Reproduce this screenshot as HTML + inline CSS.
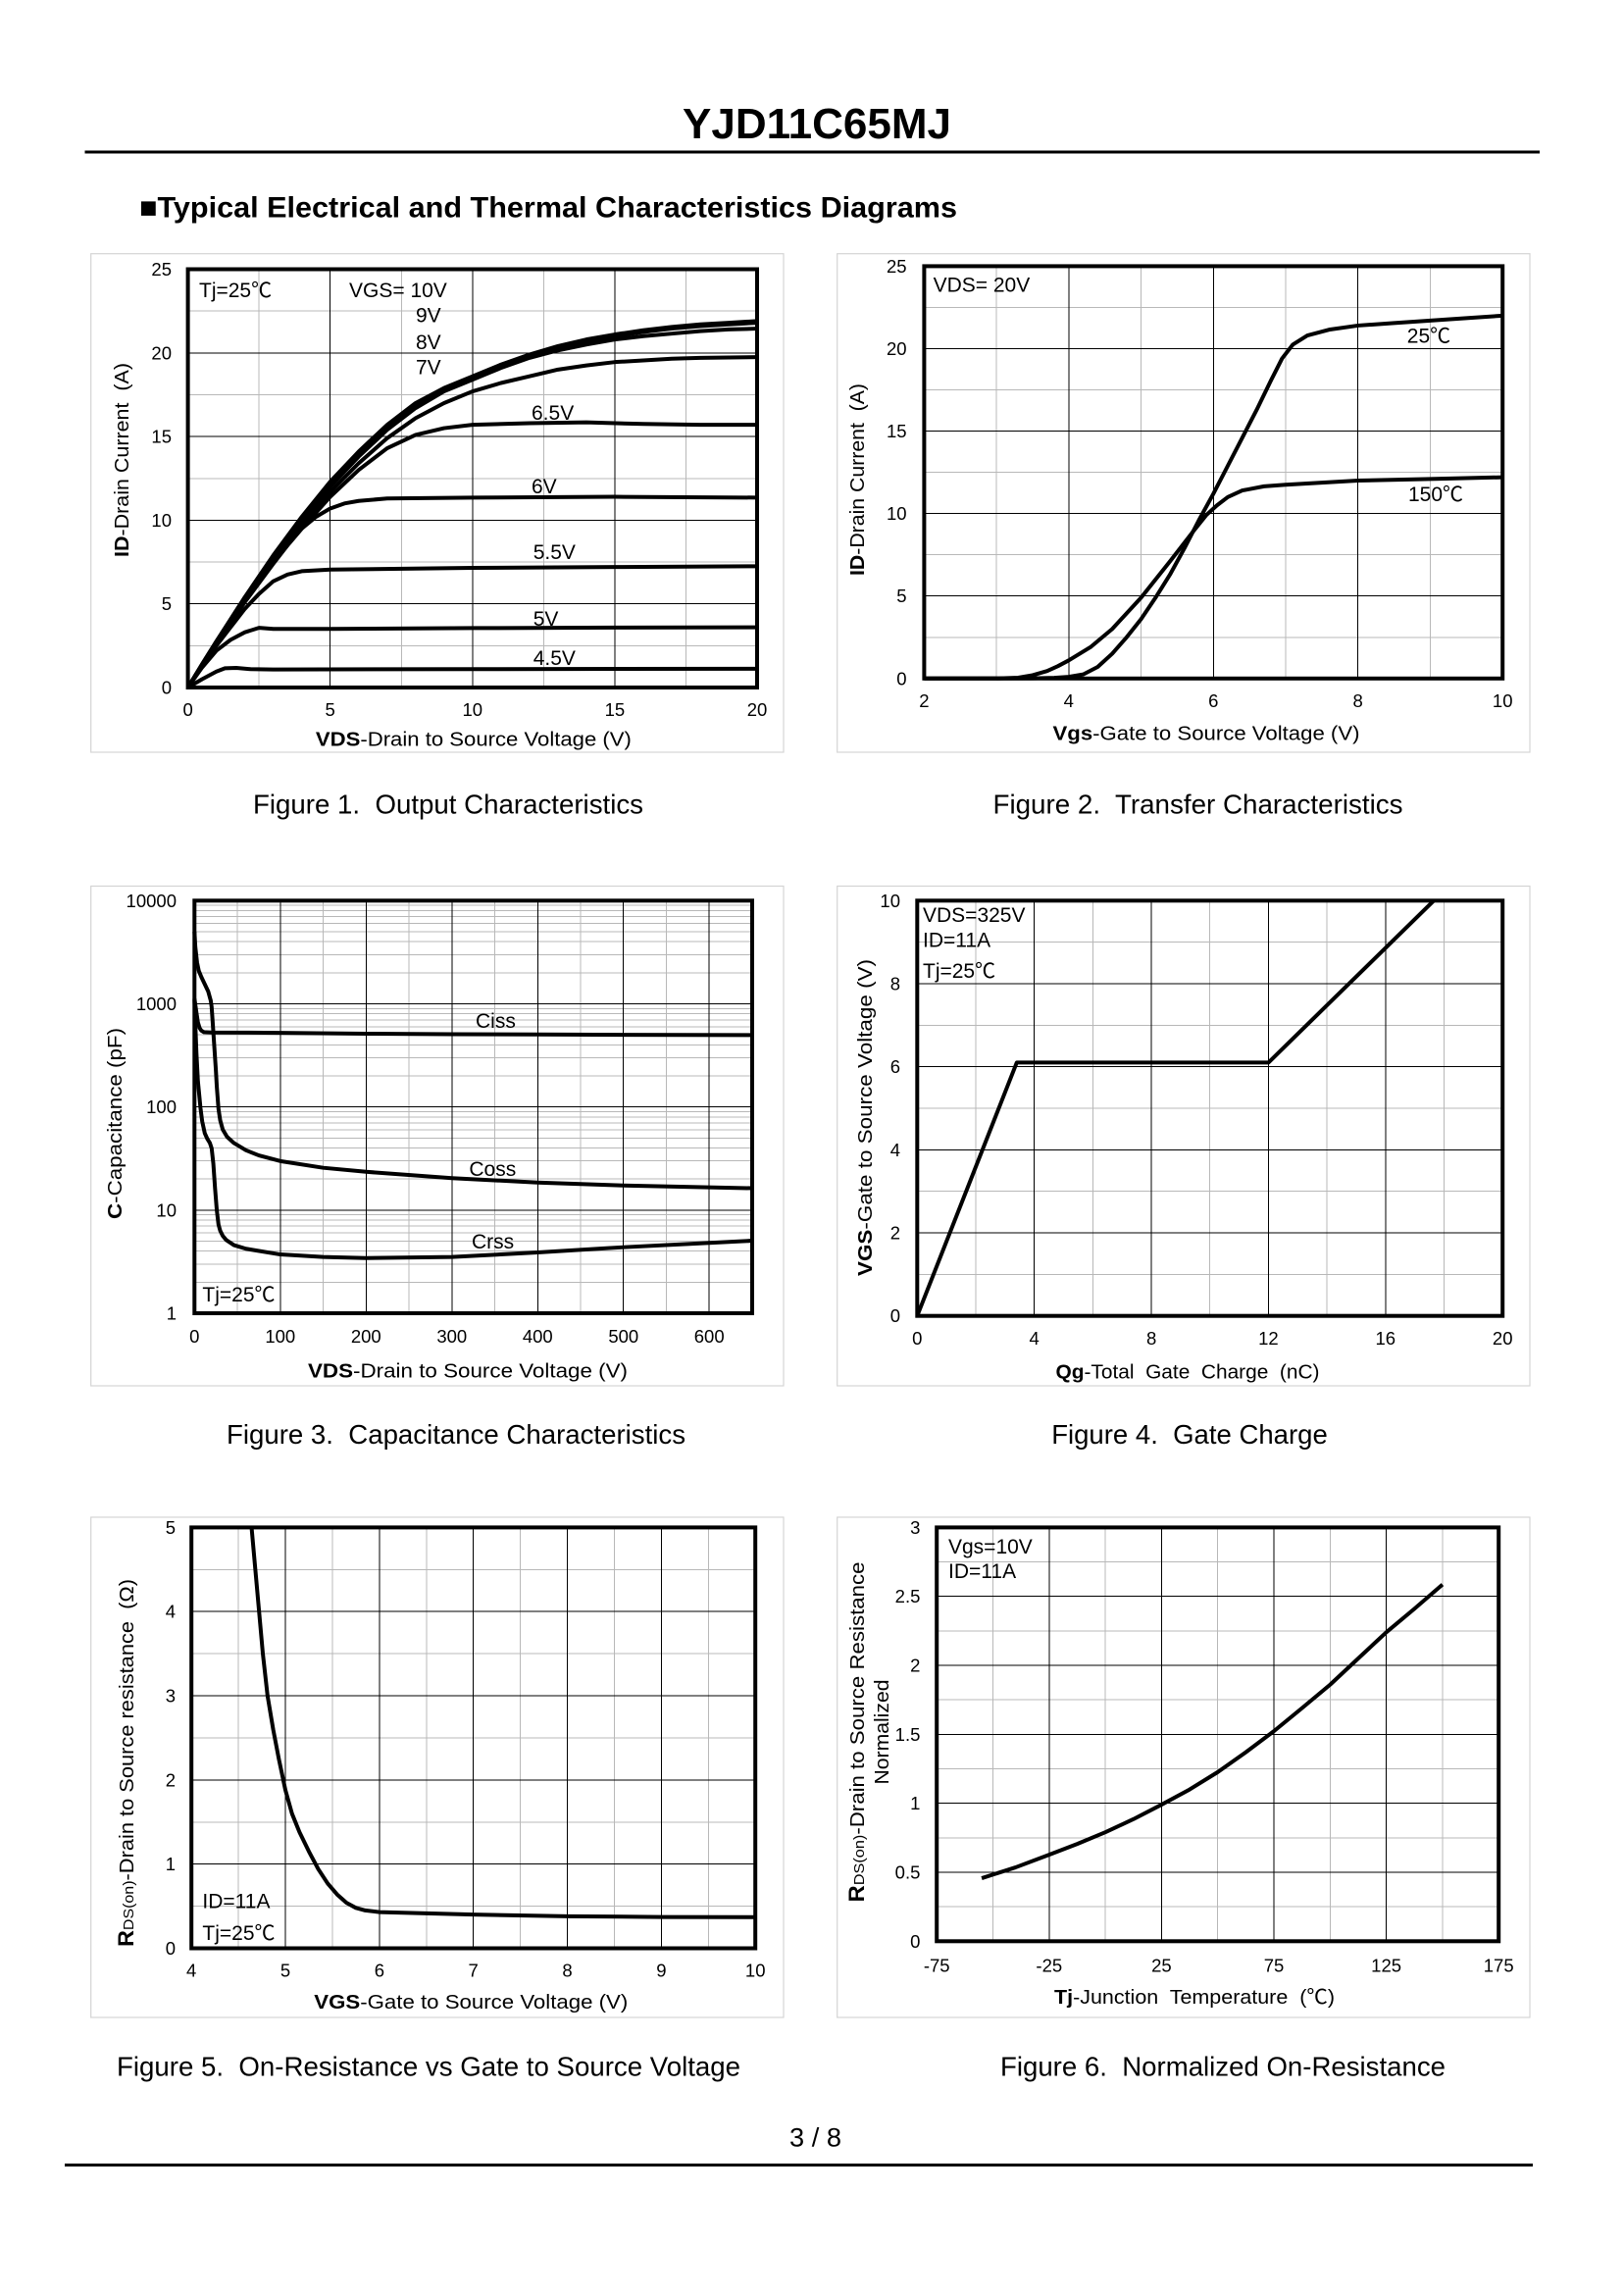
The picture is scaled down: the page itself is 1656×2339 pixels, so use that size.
<!DOCTYPE html>
<html><head><meta charset="utf-8"><style>
html,body{margin:0;padding:0;background:#fff;}
svg{display:block;}
text{font-family:"Liberation Sans",Arial,"Noto Sans CJK JP",sans-serif;fill:#000;white-space:pre;}
.t{font-size:18.5px;}
.a{font-size:21px;}
.l{font-size:20.5px;}
.c{font-size:27.5px;}
.g{fill:none;stroke:#b8b8b8;stroke-width:1;vector-effect:non-scaling-stroke;shape-rendering:crispEdges;}
.k{fill:none;stroke:#000;stroke-width:1;vector-effect:non-scaling-stroke;shape-rendering:crispEdges;}
.cv{fill:none;stroke:#000;stroke-width:4;vector-effect:non-scaling-stroke;stroke-linejoin:round;stroke-linecap:butt;}
.bd{fill:none;stroke:#000;stroke-width:4;}
.pn{fill:none;stroke:#d4d4d4;stroke-width:1.2;}
</style></head><body>
<svg width="1656" height="2339" viewBox="0 0 1656 2339" xmlns="http://www.w3.org/2000/svg">
<rect width="1656" height="2339" fill="#fff"/>

<!-- Header -->
<text x="833" y="141" text-anchor="middle" font-weight="bold" font-size="44" textLength="274" lengthAdjust="spacingAndGlyphs">YJD11C65MJ</text>
<rect x="86.5" y="153.5" width="1483.5" height="3" fill="#000"/>
<text x="142" y="221.4" font-weight="bold" font-size="30" textLength="834" lengthAdjust="spacingAndGlyphs">■Typical Electrical and Thermal Characteristics Diagrams</text>

<!-- Panels -->
<rect class="pn" x="92.7" y="258.7" width="706.3" height="508.3"/>
<rect class="pn" x="853.7" y="258.7" width="706.3" height="508.3"/>
<rect class="pn" x="92.7" y="903.5" width="706.3" height="509.5"/>
<rect class="pn" x="853.7" y="903.5" width="706.3" height="509.5"/>
<rect class="pn" x="92.7" y="1547" width="706.3" height="510"/>
<rect class="pn" x="853.7" y="1547" width="706.3" height="510"/>

<!-- ============ FIGURE 1 ============ -->
<g transform="matrix(29.02,0,0,-17.06,191.6,701)">
<path class="g" d="M2.5 0V25M7.5 0V25M12.5 0V25M17.5 0V25M0 2.5H20M0 7.5H20M0 12.5H20M0 17.5H20M0 22.5H20"/>
<path class="k" d="M5 0V25M10 0V25M15 0V25M0 5H20M0 10H20M0 15H20M0 20H20"/>
<path class="cv" d="M0 0L0.5 1.4L1 2.75L2 5.4L3 7.9L4 10.2L5 12.3L6 14.1L7 15.7L8 17L9 17.9L10 18.6L11 19.3L12 19.9L13 20.4L14 20.8L15 21.1L16 21.35L17 21.55L18 21.7L19 21.8L20 21.9"/>
<path class="cv" d="M0 0L0.5 1.4L1 2.75L2 5.38L3 7.85L4 10.1L5 12.2L6 14.0L7 15.6L8 16.9L9 17.8L10 18.5L11 19.2L12 19.8L13 20.3L14 20.7L15 21.0L16 21.25L17 21.45L18 21.6L19 21.7L20 21.8"/>
<path class="cv" d="M0 0L1 2.75L2 5.35L3 7.8L4 10.0L5 12.0L6 13.8L7 15.4L8 16.7L9 17.7L10 18.4L11 19.1L12 19.7L13 20.15L14 20.5L15 20.8L16 21.0L17 21.15L18 21.3L19 21.4L20 21.45"/>
<path class="cv" d="M0 0L1 2.7L2 5.3L3 7.7L4 9.8L5 11.7L6 13.4L7 14.9L8 16.1L9 17.0L10 17.7L11 18.2L12 18.6L13 19.0L14 19.25L15 19.45L16 19.55L17 19.65L18 19.7L20 19.75"/>
<path class="cv" d="M0 0L1 2.65L2 5.2L3 7.5L4 9.5L5 11.4L6 13.0L7 14.3L8 15.1L9 15.5L10 15.7L12 15.8L14 15.85L16 15.75L18 15.7L20 15.7"/>
<path class="cv" d="M0 0L1 2.6L2 5.1L3 7.4L3.5 8.5L4 9.5L4.5 10.2L5 10.7L5.5 11.0L6 11.15L7 11.3L10 11.35L15 11.4L20 11.35"/>
<path class="cv" d="M0 0L0.5 1.3L1 2.5L1.5 3.6L2 4.7L2.5 5.6L3 6.35L3.5 6.75L4 6.95L5 7.05L10 7.15L15 7.2L20 7.25"/>
<path class="cv" d="M0 0L0.5 1.2L1 2.2L1.5 2.85L2 3.3L2.5 3.57L3 3.5L5 3.5L10 3.55L15 3.58L20 3.6"/>
<path class="cv" d="M0 0L0.5 0.5L1 0.95L1.3 1.15L1.7 1.17L2.2 1.1L3 1.08L10 1.1L20 1.12"/>
</g>
<rect class="bd" x="191.6" y="274.5" width="580.4" height="426.5"/>
<g class="t" text-anchor="end">
<text x="175" y="707.5">0</text><text x="175" y="622.2">5</text><text x="175" y="536.9">10</text><text x="175" y="451.6">15</text><text x="175" y="366.3">20</text><text x="175" y="281">25</text>
</g>
<g class="t" text-anchor="middle">
<text x="191.6" y="730">0</text><text x="336.7" y="730">5</text><text x="481.8" y="730">10</text><text x="626.9" y="730">15</text><text x="772" y="730">20</text>
</g>
<text class="l" x="482.9" y="760.7" text-anchor="middle" textLength="322" lengthAdjust="spacingAndGlyphs"><tspan font-weight="bold">VDS</tspan>-Drain to Source Voltage (V)</text>
<text class="l" transform="translate(131,469) rotate(-90)" text-anchor="middle" textLength="198" lengthAdjust="spacingAndGlyphs"><tspan font-weight="bold">ID</tspan>-Drain Current  (A)</text>
<g class="a">
<text x="203" y="303">Tj=25℃</text>
<text x="356" y="303">VGS= 10V</text>
<text x="424" y="328.6">9V</text>
<text x="424" y="356">8V</text>
<text x="424" y="381.6">7V</text>
<text x="542" y="428">6.5V</text>
<text x="542" y="503">6V</text>
<text x="543.7" y="570">5.5V</text>
<text x="543.7" y="638">5V</text>
<text x="543.7" y="678">4.5V</text>
</g>
<text class="c" x="457" y="829.6" text-anchor="middle" textLength="398" lengthAdjust="spacingAndGlyphs">Figure 1.  Output Characteristics</text>

<!-- ============ FIGURE 2 ============ -->
<g transform="matrix(73.72,0,0,-16.816,794.96,691.8)">
<path class="g" d="M3 0V25M5 0V25M7 0V25M9 0V25M2 2.5H10M2 7.5H10M2 12.5H10M2 17.5H10M2 22.5H10"/>
<path class="k" d="M4 0V25M6 0V25M8 0V25M2 5H10M2 10H10M2 15H10M2 20H10"/>
<path class="cv" d="M2 0L3.5 0.01L3.8 0.04L4 0.1L4.2 0.25L4.4 0.7L4.6 1.5L4.8 2.5L5 3.6L5.2 4.9L5.4 6.3L5.6 7.9L5.8 9.6L6 11.2L6.2 12.9L6.4 14.6L6.6 16.3L6.8 18.1L6.95 19.4L7.1 20.25L7.3 20.8L7.6 21.15L8 21.4L8.5 21.55L9 21.7L9.5 21.85L10 22"/>
<path class="cv" d="M2 0L3 0L3.3 0.05L3.5 0.2L3.7 0.45L3.85 0.75L4 1.1L4.3 1.9L4.6 3.0L5 4.9L5.4 7.1L5.7 8.8L5.9 9.9L6.05 10.5L6.2 11.0L6.4 11.4L6.7 11.65L7 11.75L8 12.0L9 12.1L10 12.2"/>
</g>
<rect class="bd" x="942.4" y="271.4" width="589.8" height="420.4"/>
<g class="t" text-anchor="end">
<text x="924.6" y="698.3">0</text><text x="924.6" y="614.2">5</text><text x="924.6" y="530.1">10</text><text x="924.6" y="446.1">15</text><text x="924.6" y="362">20</text><text x="924.6" y="277.9">25</text>
</g>
<g class="t" text-anchor="middle">
<text x="942.4" y="721">2</text><text x="1089.8" y="721">4</text><text x="1237.3" y="721">6</text><text x="1384.7" y="721">8</text><text x="1532.2" y="721">10</text>
</g>
<text class="l" x="1230" y="754.6" text-anchor="middle" textLength="313" lengthAdjust="spacingAndGlyphs"><tspan font-weight="bold">Vgs</tspan>-Gate to Source Voltage (V)</text>
<text class="l" transform="translate(881,489) rotate(-90)" text-anchor="middle" textLength="196" lengthAdjust="spacingAndGlyphs"><tspan font-weight="bold">ID</tspan>-Drain Current  (A)</text>
<g class="a">
<text x="951.6" y="297.4">VDS= 20V</text>
<text x="1434.8" y="349.5">25℃</text>
<text x="1436" y="511">150℃</text>
</g>
<text class="c" x="1221.5" y="829.6" text-anchor="middle" textLength="418" lengthAdjust="spacingAndGlyphs">Figure 2.  Transfer Characteristics</text>

<!-- ============ FIGURE 3 ============ -->
<g transform="matrix(0.8749,0,0,-105.18,198.3,1339)">
<path class="g" d="M50 0V4M150 0V4M250 0V4M350 0V4M450 0V4M550 0V4
M0 0.30103H650M0 0.47712H650M0 0.60206H650M0 0.69897H650M0 0.77815H650M0 0.8451H650M0 0.90309H650M0 0.95424H650
M0 1.30103H650M0 1.47712H650M0 1.60206H650M0 1.69897H650M0 1.77815H650M0 1.8451H650M0 1.90309H650M0 1.95424H650
M0 2.30103H650M0 2.47712H650M0 2.60206H650M0 2.69897H650M0 2.77815H650M0 2.8451H650M0 2.90309H650M0 2.95424H650
M0 3.30103H650M0 3.47712H650M0 3.60206H650M0 3.69897H650M0 3.77815H650M0 3.8451H650M0 3.90309H650M0 3.95424H650"/>
<path class="k" d="M100 0V4M200 0V4M300 0V4M400 0V4M500 0V4M600 0V4M0 1H650M0 2H650M0 3H650"/>
<path class="cv" d="M0 3.05L2 2.93L4 2.82L6 2.765L8 2.74L11 2.725L20 2.722L100 2.718L200 2.71L300 2.705L400 2.702L500 2.699L650 2.696"/>
<path class="cv" d="M0 3.7L1 3.55L3 3.4L5 3.32L8 3.26L12 3.19L16 3.12L19 3.03L20 2.97L21 2.85L23 2.6L25 2.35L26 2.2L28 1.98L30 1.87L33 1.78L38 1.71L46 1.65L60 1.58L75 1.53L100 1.475L150 1.41L200 1.371L300 1.31L400 1.267L500 1.238L650 1.212"/>
<path class="cv" d="M0 3.04L1 2.8L2.3 2.52L4 2.25L7 1.99L9 1.86L12 1.745L15 1.69L18 1.65L20 1.6L22 1.45L24 1.21L26 1.0L28 0.86L30 0.8L33 0.75L37 0.71L46 0.66L60 0.625L100 0.57L150 0.545L200 0.535L300 0.545L400 0.59L500 0.64L650 0.703"/>
</g>
<rect class="bd" x="198.3" y="918.3" width="568.7" height="420.7"/>
<g class="t" text-anchor="end">
<text x="180" y="1345.5">1</text><text x="180" y="1240.3">10</text><text x="180" y="1135.1">100</text><text x="180" y="1030">1000</text><text x="180" y="924.8">10000</text>
</g>
<g class="t" text-anchor="middle">
<text x="198.3" y="1369">0</text><text x="285.8" y="1369">100</text><text x="373.3" y="1369">200</text><text x="460.8" y="1369">300</text><text x="548.3" y="1369">400</text><text x="635.8" y="1369">500</text><text x="723.2" y="1369">600</text>
</g>
<text class="l" x="477" y="1404.5" text-anchor="middle" textLength="326" lengthAdjust="spacingAndGlyphs"><tspan font-weight="bold">VDS</tspan>-Drain to Source Voltage (V)</text>
<text class="l" transform="translate(124,1145.5) rotate(-90)" text-anchor="middle" textLength="195" lengthAdjust="spacingAndGlyphs"><tspan font-weight="bold">C</tspan>-Capacitance (pF)</text>
<g class="a">
<text x="485" y="1048">Ciss</text>
<text x="478.4" y="1199">Coss</text>
<text x="481" y="1273">Crss</text>
<text x="206.4" y="1327">Tj=25℃</text>
</g>
<text class="c" x="465" y="1471.8" text-anchor="middle" textLength="468" lengthAdjust="spacingAndGlyphs">Figure 3.  Capacitance Characteristics</text>

<!-- ============ FIGURE 4 ============ -->
<g transform="matrix(29.845,0,0,-42.34,935.3,1341.7)">
<path class="g" d="M2 0V10M6 0V10M10 0V10M14 0V10M18 0V10M0 1H20M0 3H20M0 5H20M0 7H20M0 9H20"/>
<path class="k" d="M4 0V10M8 0V10M12 0V10M16 0V10M0 2H20M0 4H20M0 6H20M0 8H20"/>
<path class="cv" d="M0 0L3.4 6.1L12 6.1L17.65 10"/>
</g>
<rect class="bd" x="935.3" y="918.3" width="596.9" height="423.4"/>
<g class="t" text-anchor="end">
<text x="918" y="1348.2">0</text><text x="918" y="1263.5">2</text><text x="918" y="1178.8">4</text><text x="918" y="1094.2">6</text><text x="918" y="1009.5">8</text><text x="918" y="924.8">10</text>
</g>
<g class="t" text-anchor="middle">
<text x="935.3" y="1371">0</text><text x="1054.7" y="1371">4</text><text x="1174.1" y="1371">8</text><text x="1293.4" y="1371">12</text><text x="1412.8" y="1371">16</text><text x="1532.2" y="1371">20</text>
</g>
<text class="l" x="1211" y="1405.5" text-anchor="middle" textLength="269" lengthAdjust="spacingAndGlyphs"><tspan font-weight="bold">Qg</tspan>-Total  Gate  Charge  (nC)</text>
<text class="l" transform="translate(889,1139.5) rotate(-90)" text-anchor="middle" textLength="323" lengthAdjust="spacingAndGlyphs"><tspan font-weight="bold">VGS</tspan>-Gate to Source Voltage (V)</text>
<g class="a">
<text x="941" y="940">VDS=325V</text>
<text x="941" y="965.7">ID=11A</text>
<text x="941" y="997">Tj=25℃</text>
</g>
<text class="c" x="1213" y="1471.8" text-anchor="middle" textLength="281.6" lengthAdjust="spacingAndGlyphs">Figure 4.  Gate Charge</text>

<!-- ============ FIGURE 5 ============ -->
<g transform="matrix(95.83,0,0,-85.82,-188.12,1986.5)">
<path class="g" d="M4.5 0V5M5.5 0V5M6.5 0V5M7.5 0V5M8.5 0V5M9.5 0V5M4 0.5H10M4 1.5H10M4 2.5H10M4 3.5H10M4 4.5H10"/>
<path class="k" d="M5 0V5M6 0V5M7 0V5M8 0V5M9 0V5M4 1H10M4 2H10M4 3H10M4 4H10"/>
<path class="cv" d="M4.64 5L4.68 4.5L4.72 4.0L4.76 3.5L4.81 3.0L4.87 2.6L4.93 2.25L5.0 1.88L5.07 1.6L5.15 1.38L5.25 1.15L5.35 0.94L5.45 0.77L5.55 0.64L5.65 0.54L5.75 0.48L5.85 0.45L6 0.43L6.5 0.415L7 0.4L8 0.38L9 0.372L10 0.37"/>
</g>
<rect class="bd" x="195.2" y="1557.4" width="575" height="429.1"/>
<g class="t" text-anchor="end">
<text x="179" y="1993">0</text><text x="179" y="1907.2">1</text><text x="179" y="1821.4">2</text><text x="179" y="1735.5">3</text><text x="179" y="1649.7">4</text><text x="179" y="1563.9">5</text>
</g>
<g class="t" text-anchor="middle">
<text x="195.2" y="2015.5">4</text><text x="291" y="2015.5">5</text><text x="386.9" y="2015.5">6</text><text x="482.7" y="2015.5">7</text><text x="578.5" y="2015.5">8</text><text x="674.4" y="2015.5">9</text><text x="770.2" y="2015.5">10</text>
</g>
<text class="l" x="480.3" y="2048" text-anchor="middle" textLength="320" lengthAdjust="spacingAndGlyphs"><tspan font-weight="bold">VGS</tspan>-Gate to Source Voltage (V)</text>
<text class="l" transform="translate(136,1797.5) rotate(-90)" text-anchor="middle" textLength="375" lengthAdjust="spacingAndGlyphs"><tspan font-weight="bold" font-size="22">R</tspan><tspan font-size="15">DS(on)</tspan>-Drain to Source resistance  (Ω)</text>
<g class="a">
<text x="206.4" y="1945.6">ID=11A</text>
<text x="206.4" y="1977.8">Tj=25℃</text>
</g>
<text class="c" x="437" y="2116.5" text-anchor="middle" textLength="636" lengthAdjust="spacingAndGlyphs">Figure 5.  On-Resistance vs Gate to Source Voltage</text>

<!-- ============ FIGURE 6 ============ -->
<g transform="matrix(2.292,0,0,-140.63,1127.1,1979.3)">
<path class="g" d="M-50 0V3M0 0V3M50 0V3M100 0V3M150 0V3M-75 0.25H175M-75 0.75H175M-75 1.25H175M-75 1.75H175M-75 2.25H175M-75 2.75H175"/>
<path class="k" d="M-25 0V3M25 0V3M75 0V3M125 0V3M-75 0.5H175M-75 1H175M-75 1.5H175M-75 2H175M-75 2.5H175"/>
<path class="cv" d="M-55 0.457L-40 0.535L-25 0.627L-12.5 0.705L0 0.79L12.5 0.885L25 0.99L37.5 1.1L50 1.226L62.5 1.37L75 1.523L87.5 1.69L100 1.86L112.5 2.05L125 2.24L137.5 2.41L150 2.586"/>
</g>
<rect class="bd" x="955.2" y="1557.4" width="573" height="421.9"/>
<g class="t" text-anchor="end">
<text x="938.4" y="1985.8">0</text><text x="938.4" y="1915.5">0.5</text><text x="938.4" y="1845.2">1</text><text x="938.4" y="1774.9">1.5</text><text x="938.4" y="1704.5">2</text><text x="938.4" y="1634.2">2.5</text><text x="938.4" y="1563.9">3</text>
</g>
<g class="t" text-anchor="middle">
<text x="955.2" y="2010.5">-75</text><text x="1069.8" y="2010.5">-25</text><text x="1184.4" y="2010.5">25</text><text x="1299" y="2010.5">75</text><text x="1413.6" y="2010.5">125</text><text x="1528.2" y="2010.5">175</text>
</g>
<text class="l" x="1218" y="2043" text-anchor="middle" textLength="286" lengthAdjust="spacingAndGlyphs"><tspan font-weight="bold">Tj</tspan>-Junction  Temperature  (℃)</text>
<text class="l" transform="translate(881,1766) rotate(-90)" text-anchor="middle" textLength="347" lengthAdjust="spacingAndGlyphs"><tspan font-weight="bold" font-size="22">R</tspan><tspan font-size="15">DS(on)</tspan>-Drain to Source Resistance</text>
<text class="l" transform="translate(906,1766) rotate(-90)" text-anchor="middle" textLength="107" lengthAdjust="spacingAndGlyphs">Normalized</text>
<g class="a">
<text x="967" y="1584">Vgs=10V</text>
<text x="967" y="1609">ID=11A</text>
</g>
<text class="c" x="1247" y="2116.5" text-anchor="middle" textLength="454" lengthAdjust="spacingAndGlyphs">Figure 6.  Normalized On-Resistance</text>

<!-- Footer -->
<text x="831.5" y="2188.5" text-anchor="middle" font-size="27" textLength="53" lengthAdjust="spacingAndGlyphs">3 / 8</text>
<rect x="66" y="2206" width="1497" height="3" fill="#000"/>
</svg>
</body></html>
